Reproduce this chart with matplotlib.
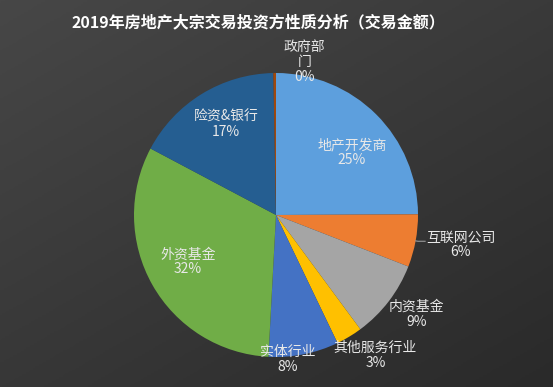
import numpy as np
import matplotlib
matplotlib.use("Agg")
import matplotlib.pyplot as plt
from matplotlib.colors import LinearSegmentedColormap

plt.rcParams['font.family'] = ['Noto Sans CJK SC', 'DejaVu Sans']

title = "2019年房地产大宗交易投资方性质分析（交易金额）"
categories = ["地产开发商", "互联网公司", "内资基金", "其他服务行业", "实体行业", "外资基金", "险资&银行", "政府部门"]
values = [25, 6, 9, 3, 8, 32, 17, 0.3]
label_texts = ["地产开发商", "互联网公司", "内资基金", "其他服务行业", "实体行业", "外资基金", "险资&银行", "政府部\n门"]
colors = ["#5D9FDD", "#ED7D31", "#A5A5A5", "#FFC000", "#4472C4", "#70AD47", "#255E91", "#9E480E"]
# label positions (data units relative to pie centre, radius = 1)
label_pos = [(0.535, 0.44), (1.30, -0.21), (0.99, -0.70), (0.70, -0.99),
             (0.08, -1.02), (-0.62, -0.33), (-0.35, 0.64), (0.20, 1.08)]

W, H = 553, 387
fig = plt.figure(figsize=(W / 100, H / 100), dpi=100)

# background gradient
bg = fig.add_axes([0, 0, 1, 1])
bg.set_axis_off()
yy, xx = np.mgrid[0:1:200j, 0:1:300j]
grad = 0.55 * yy + 0.45 * xx
cmap = LinearSegmentedColormap.from_list("bg", ["#474747", "#2a2a2a"])
bg.imshow(grad, cmap=cmap, aspect="auto", extent=[0, 1, 0, 1], origin="upper")
bg.set_xlim(0, 1)
bg.set_ylim(0, 1)

fig.text(258 / W, 1 - 22 / H, title, ha="center", va="center", color="white",
         fontsize=11.5, fontweight="bold")

cx, cy, R = 276, 215, 142
ax = fig.add_axes([(cx - R) / W, (H - cy - R) / H, 2 * R / W, 2 * R / H])
ax.set_axis_off()
wedges, _ = ax.pie(values, colors=colors, startangle=90, counterclock=False,
                   radius=1, wedgeprops=dict(linewidth=0))
ax.set_xlim(-1, 1)
ax.set_ylim(-1, 1)
ax.set_aspect("auto")

total = sum(values)
for i, (txt, v) in enumerate(zip(label_texts, values)):
    pct = round(v / total * 100)
    x, y = label_pos[i]
    ax.text(x, y, f"{txt}\n{pct}%", ha="center", va="center", color="#e8e8e8",
            fontsize=10, linespacing=1.1, clip_on=False)

# leader line for 互联网公司
w = wedges[1]
ang = np.deg2rad((w.theta1 + w.theta2) / 2)
ex, ey = np.cos(ang), np.sin(ang)
ax.plot([ex, 1.0, 1.05], [ey, -0.185, -0.185], color="#9a9a9a", lw=0.8, clip_on=False)

fig.savefig("out.png", dpi=100, facecolor="#383838")
